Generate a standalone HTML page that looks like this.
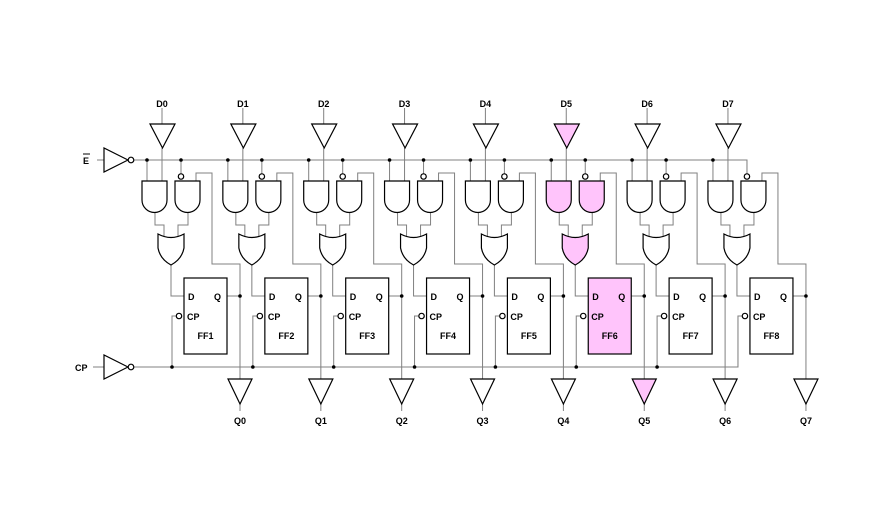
<!DOCTYPE html>
<html><head><meta charset="utf-8"><style>
html,body{margin:0;padding:0;background:#fff}
svg{display:block}
text{font-family:"Liberation Sans",Arial,sans-serif;font-weight:bold;font-size:9px;fill:#000}
</style></head><body>
<svg width="891" height="510" viewBox="0 0 891 510" xmlns="http://www.w3.org/2000/svg">
<defs>
<g id="wires" fill="none" stroke="#808080" stroke-width="1">
  <line x1="162" y1="108" x2="162" y2="124"/>
  <line x1="162" y1="148" x2="162" y2="181"/>
  <line x1="147" y1="160" x2="147" y2="181"/>
  <line x1="181" y1="160" x2="181" y2="174"/>
  <polyline points="196,181 196,173 212,173 212,264 240,264 240,379"/>
  <polyline points="155,212 155,225 164,225 164,238"/>
  <polyline points="188,212 188,225 178,225 178,238"/>
  <polyline points="171,265 171,296 184,296"/>
  <line x1="227" y1="296" x2="240" y2="296"/>
  <polyline points="176,316 172,316 172,367"/>
  <line x1="240" y1="404" x2="240" y2="411"/>
</g>
<g id="shapes" stroke="#000" stroke-width="1.2">
  <path d="M150,124 H175 L162.5,148 Z"/>
  <path d="M142,181 H167 V200 A12.5 12.5 0 0 1 142 200 Z"/>
  <path d="M175,181 H200 V200 A12.5 12.5 0 0 1 175 200 Z"/>
  <path d="M158,234 Q171,241 184,234 L184,248 Q182,259 171,265 Q160,259 158,248 Z"/>
  <rect x="184" y="278" width="43" height="76"/>
  <path d="M228,379 H252 L240,404 Z"/>
  <circle cx="181" cy="176.5" r="2.7" fill="#fff"/>
  <circle cx="179" cy="316" r="2.7" fill="#fff"/>
  <circle cx="240" cy="296" r="1.8" fill="#000" stroke="none"/>
</g>
<g id="dots" fill="#000">
  <circle cx="147" cy="160" r="1.8"/>
  <circle cx="181" cy="160" r="1.8"/>
  <circle cx="172" cy="367" r="1.8"/>
</g>
</defs>

<!-- buses -->
<g fill="none" stroke="#808080" stroke-width="1">
  <polyline points="134,160 747,160 747,174"/>
  <polyline points="134,367 738,367 738,316 742,316"/>
  <line x1="97" y1="160" x2="104" y2="160"/>
  <line x1="93" y1="367" x2="104" y2="367"/>
</g>
<g stroke="#000" stroke-width="1.2" fill="#fff">
  <path d="M104,148 L104,172 L128,160 Z"/>
  <circle cx="131" cy="160" r="2.8"/>
  <path d="M104,355 L104,379 L128,367 Z"/>
  <circle cx="131" cy="367" r="2.8"/>
</g>
<text x="83" y="164">E</text>
<line x1="83" y1="154" x2="90" y2="154" stroke="#000" stroke-width="1"/>
<text x="75" y="371">CP</text>

<use href="#wires" transform="translate(0,0)"/>
<use href="#wires" transform="translate(80.85,0)"/>
<use href="#wires" transform="translate(161.7,0)"/>
<use href="#wires" transform="translate(242.55,0)"/>
<use href="#wires" transform="translate(323.4,0)"/>
<use href="#wires" transform="translate(404.25,0)"/>
<use href="#wires" transform="translate(485.1,0)"/>
<use href="#wires" transform="translate(565.95,0)"/>

<use href="#shapes" fill="#fff" transform="translate(0,0)"/>
<use href="#shapes" fill="#fff" transform="translate(80.85,0)"/>
<use href="#shapes" fill="#fff" transform="translate(161.7,0)"/>
<use href="#shapes" fill="#fff" transform="translate(242.55,0)"/>
<use href="#shapes" fill="#fff" transform="translate(323.4,0)"/>
<use href="#shapes" fill="#ffc4fb" transform="translate(404.25,0)"/>
<use href="#shapes" fill="#fff" transform="translate(485.1,0)"/>
<use href="#shapes" fill="#fff" transform="translate(565.95,0)"/>

<use href="#dots" transform="translate(0,0)"/>
<use href="#dots" transform="translate(80.85,0)"/>
<use href="#dots" transform="translate(161.7,0)"/>
<use href="#dots" transform="translate(242.55,0)"/>
<use href="#dots" transform="translate(323.4,0)"/>
<use href="#dots" transform="translate(404.25,0)"/>
<use href="#dots" transform="translate(485.1,0)"/>
<circle cx="712.95" cy="160" r="1.8" fill="#000"/>

<g text-anchor="middle">
<text x="162" y="107">D0</text><text x="242.85" y="107">D1</text><text x="323.7" y="107">D2</text><text x="404.55" y="107">D3</text>
<text x="485.4" y="107">D4</text><text x="566.25" y="107">D5</text><text x="647.1" y="107">D6</text><text x="727.95" y="107">D7</text>
<text x="240" y="424">Q0</text><text x="320.85" y="424">Q1</text><text x="401.7" y="424">Q2</text><text x="482.55" y="424">Q3</text>
<text x="563.4" y="424">Q4</text><text x="644.25" y="424">Q5</text><text x="725.1" y="424">Q6</text><text x="805.95" y="424">Q7</text>
<text x="205.5" y="339">FF1</text><text x="286.35" y="339">FF2</text><text x="367.2" y="339">FF3</text><text x="448.05" y="339">FF4</text>
<text x="528.9" y="339">FF5</text><text x="609.75" y="339">FF6</text><text x="690.6" y="339">FF7</text><text x="771.45" y="339">FF8</text>
</g>
<g>
<text x="188" y="300">D</text><text x="214" y="300">Q</text><text x="187" y="320">CP</text>
<text x="268.85" y="300">D</text><text x="294.85" y="300">Q</text><text x="267.85" y="320">CP</text>
<text x="349.7" y="300">D</text><text x="375.7" y="300">Q</text><text x="348.7" y="320">CP</text>
<text x="430.55" y="300">D</text><text x="456.55" y="300">Q</text><text x="429.55" y="320">CP</text>
<text x="511.4" y="300">D</text><text x="537.4" y="300">Q</text><text x="510.4" y="320">CP</text>
<text x="592.25" y="300">D</text><text x="618.25" y="300">Q</text><text x="591.25" y="320">CP</text>
<text x="673.1" y="300">D</text><text x="699.1" y="300">Q</text><text x="672.1" y="320">CP</text>
<text x="753.95" y="300">D</text><text x="779.95" y="300">Q</text><text x="752.95" y="320">CP</text>
</g>
</svg>
</body></html>
